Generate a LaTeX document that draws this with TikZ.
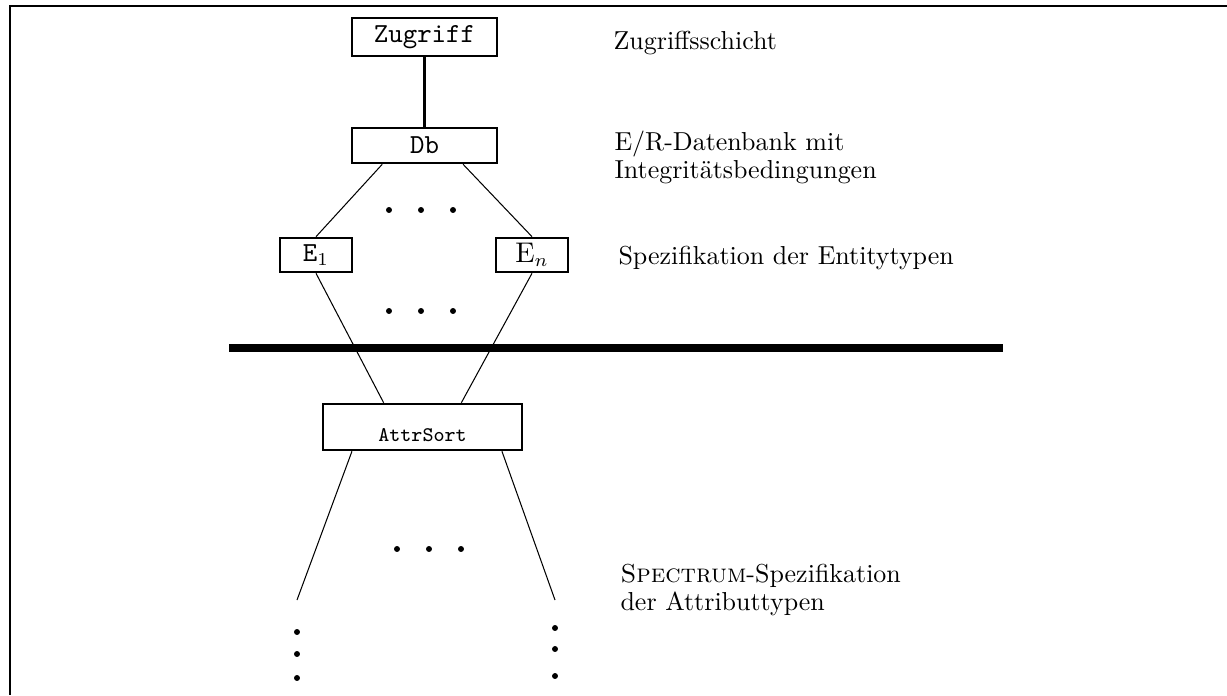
\documentclass[tikz,border=0pt]{standalone}
\usepackage{amsmath,amssymb}

\begin{document}
\begin{tikzpicture}[x=0.385pt,y=-0.385pt,
    schicht/.style={draw,line width=1pt,inner sep=0pt,font=\ttfamily\fontsize{10.6}{12}\selectfont},
    txt/.style={anchor=north west,align=left,inner sep=0pt}]
    \useasboundingbox (0,0) rectangle (1227,695);
    \draw[line width=0.9pt] (1227,6) -- (10,6) -- (10,695);
    % obere Schichten
    \node[schicht,minimum width=55.8pt,minimum height=14.6pt] (zug) at (424.5,37) {Zugriff};
    \node[schicht,minimum width=55.8pt,minimum height=13.5pt] (db) at (424.5,145.5) {Db};
    \node[schicht,minimum width=27.7pt,minimum height=13.1pt] (e1) at (316,255) {E$_1$};
    \node[schicht,minimum width=27.7pt,minimum height=13.1pt] (en) at (532,255) {$\mathrm{E}_n$};
    \draw[line width=0.8pt] (zug) -- (db);
    \draw[line width=0.4pt] (db.204) -- (e1.north);
    \draw[line width=0.4pt] (db.-26) -- (en.north);
    % Attributsorte
    \node[schicht,font=\ttfamily\footnotesize,minimum width=76.6pt,
        text height=14.6pt,text depth=3.1pt] (attr) at (422.5,427) {AttrSort};
    \draw[line width=0.4pt] (e1.south) -- (attr.148);
    \draw[line width=0.4pt] (en.south) -- (attr.32);
    \coordinate (bl) at (297,600);
    \coordinate (br) at (555,600);
    \draw[line width=0.4pt] (attr.199) -- (bl);
    \draw[line width=0.4pt] (attr.-17) -- (br);
    \draw[line width=2.7pt] (229,348) -- (1003,348);
    % Punkte
    \foreach \x in {389,421,453} {
        \fill (\x,210) circle (1.15pt);
        \fill (\x,311) circle (1.15pt);
    }
    \foreach \x in {397,429,461} \fill (\x,549) circle (1.15pt);
    \foreach \y in {632,654,678} \fill (297,\y) circle (1.15pt);
    \foreach \y in {628,649,676} \fill (555,\y) circle (1.15pt);
    % Beschriftung
    \node[txt] (lzug) at (613,31) {Zugriffsschicht};
    \node[txt,font=\fontsize{10}{9.3}\selectfont] (ldb) at (614,131) {E/R-Datenbank mit\\Integritätsbedingungen};
    \node[txt] (lent) at (618,246) {Spezifikation der Entitytypen};
    \node[txt,font=\fontsize{10}{10.5}\selectfont] (lspec) at (620,564) {\textsc{Spectrum}-Spezifikation\\der Attributtypen};
\end{tikzpicture}
\end{document}
